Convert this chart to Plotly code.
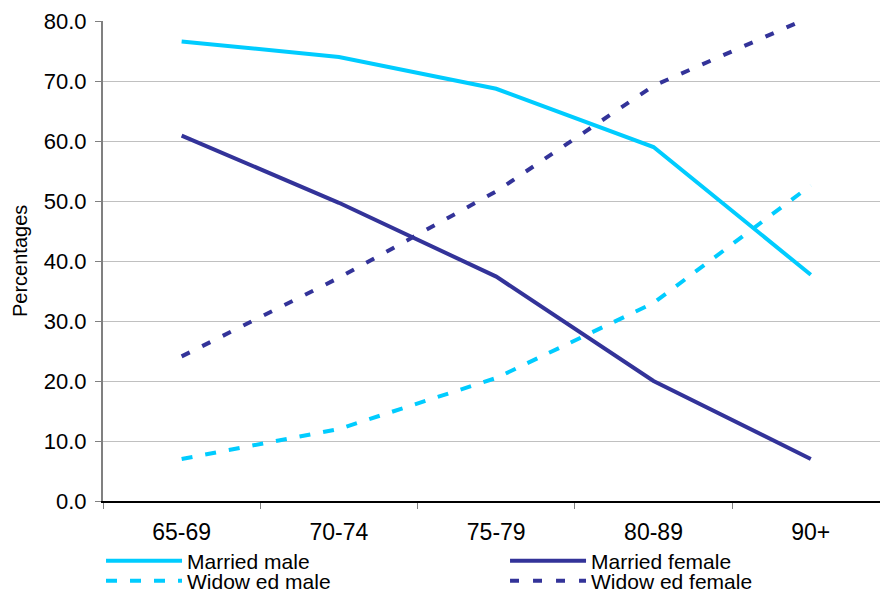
import plotly.graph_objects as go

categories = ["65-69", "70-74", "75-79", "80-89", "90+"]
married_male = [76.6, 74.0, 68.7, 59.0, 37.7]
married_female = [60.9, 49.7, 37.4, 20.0, 7.0]
widowed_male = [7.0, 12.0, 20.5, 33.0, 52.6]
widowed_female = [24.1, 37.2, 51.6, 69.2, 80.7]
y_ticks = [0, 10, 20, 30, 40, 50, 60, 70, 80]

CYAN = "#00CCFF"
NAVY = "#333399"
FONT = "Liberation Sans"

fig = go.Figure()
fig.add_trace(go.Scatter(x=categories, y=married_male, name="Married male", mode="lines",
                         line=dict(color=CYAN, width=4), legend="legend"))
fig.add_trace(go.Scatter(x=categories, y=married_female, name="Married female", mode="lines",
                         line=dict(color=NAVY, width=4), legend="legend2"))
fig.add_trace(go.Scatter(x=categories, y=widowed_male, name="Widow ed male", mode="lines",
                         line=dict(color=CYAN, width=4, dash="11px,13px"), legend="legend3"))
fig.add_trace(go.Scatter(x=categories, y=widowed_female, name="Widow ed female", mode="lines",
                         line=dict(color=NAVY, width=4, dash="9px,14px"), legend="legend4"))

def leg(x, y):
    return dict(xref="container", yref="container", x=x, y=y, xanchor="left", yanchor="top",
                itemwidth=76, font=dict(family=FONT, size=21, color="black"),
                bgcolor="rgba(0,0,0,0)", borderwidth=0)

fig.update_layout(
    width=880, height=595,
    margin=dict(l=103, r=0, t=21, b=94, autoexpand=False),
    paper_bgcolor="white", plot_bgcolor="white",
    font=dict(family=FONT, size=20, color="black"),
    showlegend=True,
    legend=leg(0.1148, 0.0916),
    legend2=leg(0.5739, 0.0916),
    legend3=leg(0.1148, 0.0579),
    legend4=leg(0.5739, 0.0579),
    xaxis=dict(range=[-0.5, 4.44], showgrid=False, showline=True, linecolor="black",
               linewidth=1.5, ticks="outside", tickson="boundaries", ticklen=6,
               tickcolor="#808080", tickfont=dict(family=FONT, size=23),
               ticklabelstandoff=10, zeroline=False, automargin=False),
    yaxis=dict(range=[0, 80], tickvals=y_ticks, tickformat=".1f", showgrid=True,
               gridcolor="#C0C0C0", gridwidth=1, showline=True, linecolor="#808080",
               linewidth=2, ticks="outside", ticklen=6, tickcolor="#808080",
               tickfont=dict(family=FONT, size=22), ticklabelstandoff=4, zeroline=False,
               automargin=False),
    annotations=[dict(text="Percentages", textangle=-90, xref="paper", yref="paper",
                      x=-0.1068, y=0.5, xanchor="center", yanchor="middle", showarrow=False,
                      font=dict(family=FONT, size=20, color="black"))],
)

fig.write_html("out.html", config={"displayModeBar": False},
               post_script="document.body.style.margin='0';")
